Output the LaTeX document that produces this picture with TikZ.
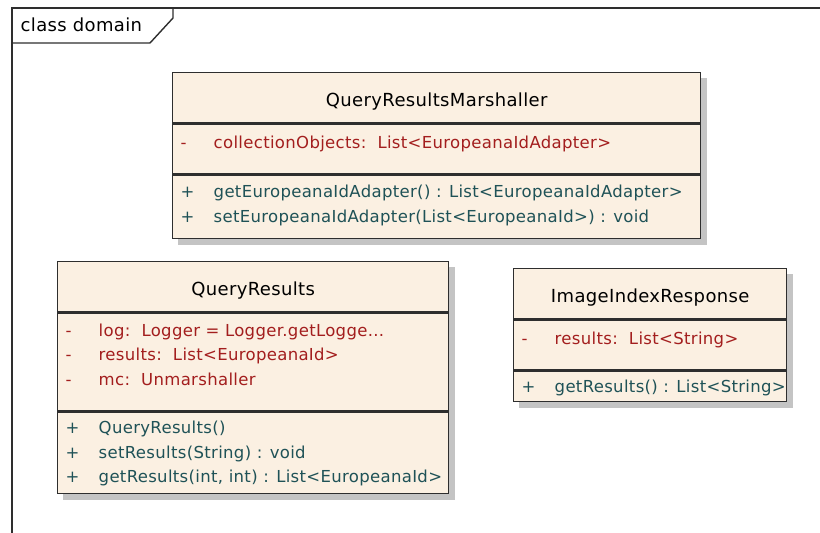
\documentclass[tikz,border=0pt]{standalone}
\usepackage{fontspec}
\setsansfont[LetterSpace=2]{DejaVu Sans}
\usetikzlibrary{positioning,backgrounds}
\definecolor{classfill}{HTML}{FBF0E2}
\definecolor{attrred}{HTML}{A31E1E}
\definecolor{opteal}{HTML}{1F5257}
\definecolor{edgegray}{HTML}{2E2E2E}
\definecolor{shadowgray}{HTML}{C4C4C4}
\newcommand{\umlvis}[1]{\strut\makebox[33pt][l]{#1}}

\begin{document}
\begin{tikzpicture}[x=1pt,y=-1pt,line width=1.4pt,
  font=\sffamily\fontsize{16.5}{24.5}\selectfont,
  part/.style={draw=edgegray,fill=classfill,inner sep=0pt},
  title/.style={font=\sffamily\fontsize{18}{24.5}\selectfont,text height=17pt,text depth=0pt},
  members/.style={anchor=north west,align=left,inner sep=0pt}]
  \useasboundingbox (0,0) rectangle (820,533);
  % frame
  \draw[edgegray] (12,533)--(12,8)--(820,8);
  \draw[edgegray] (12,43)--(150,43)--(173,18)--(173,8);
  \node[anchor=base west,inner sep=0pt,title] (frameLabel) at (20,31) {class domain};
  % QueryResultsMarshaller
  \node[part,title,minimum width=528,minimum height=50,anchor=north west] (qrmTitle) at (172,72) {QueryResultsMarshaller};
  \node[part,minimum width=528,minimum height=50,below=0pt of qrmTitle] (qrmAttr) {};
  \node[part,minimum width=528,minimum height=63,below=0pt of qrmAttr] (qrmOps) {};
  \node[members,attrred] (qrmAttrList) at ([shift={(8,7)}]qrmAttr.north west)
    {\umlvis{-}collectionObjects:~~List<EuropeanaIdAdapter>};
  \node[members,opteal] (qrmOpsList) at ([shift={(8,5)}]qrmOps.north west)
    {\umlvis{+}getEuropeanaIdAdapter() : List<EuropeanaIdAdapter>\\
     \umlvis{+}setEuropeanaIdAdapter(List<EuropeanaId>) : void};
  % QueryResults
  \node[part,title,minimum width=391,minimum height=50,anchor=north west] (qrTitle) at (57,261) {QueryResults};
  \node[part,minimum width=391,minimum height=98,below=0pt of qrTitle] (qrAttr) {};
  \node[part,minimum width=391,minimum height=81,below=0pt of qrAttr] (qrOps) {};
  \node[members,attrred] (qrAttrList) at ([shift={(8,6)}]qrAttr.north west)
    {\umlvis{-}log:~~Logger = Logger.getLogge...\\
     \umlvis{-}results:~~List<EuropeanaId>\\
     \umlvis{-}mc:~~Unmarshaller};
  \node[members,opteal] (qrOpsList) at ([shift={(8,4)}]qrOps.north west)
    {\umlvis{+}QueryResults()\\
     \umlvis{+}setResults(String) : void\\
     \umlvis{+}getResults(int, int) : List<EuropeanaId>};
  % ImageIndexResponse
  \node[part,title,minimum width=273,minimum height=50,anchor=north west] (iirTitle) at (513,268) {ImageIndexResponse};
  \node[part,minimum width=273,minimum height=50,below=0pt of iirTitle] (iirAttr) {};
  \node[part,minimum width=273,minimum height=30,below=0pt of iirAttr] (iirOps) {};
  \node[members,attrred] (iirAttrList) at ([shift={(8,7)}]iirAttr.north west)
    {\umlvis{-}results:~~List<String>};
  \node[members,opteal] (iirOpsList) at ([shift={(8,4)}]iirOps.north west)
    {\umlvis{+}getResults() : List<String>};
  % shadows
  \begin{pgfonlayer}{background}
    \foreach \c in {qrm,qr,iir}
      \fill[shadowgray] ([shift={(6,6)}]\c Title.north west) rectangle ([shift={(6,6)}]\c Ops.south east);
  \end{pgfonlayer}
\end{tikzpicture}
\end{document}
